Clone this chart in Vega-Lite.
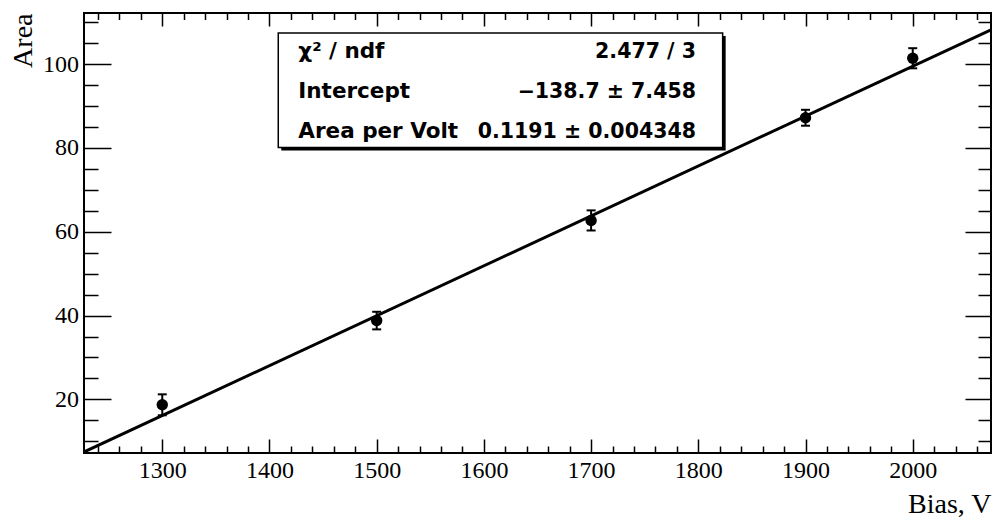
{
  "$schema": "https://vega.github.io/schema/vega-lite/v6.json",
  "width": 907,
  "height": 440,
  "autosize": "none",
  "padding": {"left": 84, "top": 13, "right": 1, "bottom": 67},
  "background": "white",
  "config": {
    "view": {"stroke": "black", "strokeWidth": 2},
    "axis": {
      "grid": false,
      "domain": false,
      "tickColor": "black",
      "tickWidth": 1.5,
      "labelFont": "Liberation Serif",
      "labelFontSize": 24,
      "labelColor": "black",
      "titleFont": "Liberation Serif",
      "titleFontSize": 28,
      "titleFontWeight": "normal",
      "titleColor": "black"
    }
  },
  "datasets": {
    "points": [
      {"bias": 1300, "area": 18.7, "lo": 16.2, "hi": 21.2},
      {"bias": 1500, "area": 38.8, "lo": 36.7, "hi": 40.9},
      {"bias": 1700, "area": 62.7, "lo": 60.3, "hi": 65.1},
      {"bias": 1900, "area": 87.2, "lo": 85.3, "hi": 89.1},
      {"bias": 2000, "area": 101.4, "lo": 99.0, "hi": 103.8}
    ],
    "fit": [
      {"bias": 1227, "area": 7.44},
      {"bias": 2073, "area": 108.19}
    ],
    "stats": [
      {"name": "χ² / ndf", "value": "2.477 / 3"},
      {"name": "Intercept", "value": "−138.7 ± 7.458"},
      {"name": "Area per Volt", "value": "0.1191 ± 0.004348"}
    ],
    "box": [
      {"x1": 1408.2, "x2": 1822.7, "y1": 107.43, "y2": 80.12}
    ]
  },
  "layer": [
    {
      "data": {"name": "fit"},
      "mark": {"type": "line", "color": "black", "strokeWidth": 3, "clip": true},
      "encoding": {
        "x": {
          "field": "bias", "type": "quantitative",
          "scale": {"domain": [1227, 2073], "nice": false, "zero": false},
          "axis": {
            "orient": "bottom", "values": [1300, 1400, 1500, 1600, 1700, 1800, 1900, 2000],
            "format": "d", "ticks": false, "labelPadding": 5,
            "title": "Bias, V", "titleX": 907, "titleY": 59, "titleAlign": "right",
            "titleBaseline": "alphabetic", "titleAnchor": null
          }
        },
        "y": {
          "field": "area", "type": "quantitative",
          "scale": {"domain": [7.2, 112.2], "nice": false, "zero": false},
          "axis": {
            "orient": "left", "values": [20, 40, 60, 80, 100],
            "format": "d", "ticks": false, "labelPadding": 5.5,
            "title": "Area", "titleX": -53, "titleY": 0, "titleAngle": 270,
            "titleAlign": "right", "titleBaseline": "alphabetic", "titleAnchor": null
          }
        }
      }
    },
    {
      "data": {"name": "points"},
      "mark": {"type": "rule", "color": "black", "strokeWidth": 2},
      "encoding": {
        "x": {
          "field": "bias", "type": "quantitative",
          "scale": {"domain": [1227, 2073], "nice": false, "zero": false},
          "axis": {
            "orient": "bottom", "values": [1300, 1400, 1500, 1600, 1700, 1800, 1900, 2000],
            "labels": false, "tickSize": -14, "title": null
          }
        },
        "y": {
          "field": "lo", "type": "quantitative",
          "scale": {"domain": [7.2, 112.2], "nice": false, "zero": false},
          "axis": {
            "orient": "left", "values": [20, 40, 60, 80, 100],
            "labels": false, "tickSize": -27, "title": null
          }
        },
        "y2": {"field": "hi"}
      }
    },
    {
      "data": {"name": "points"},
      "mark": {"type": "tick", "orient": "horizontal", "color": "black", "size": 9, "thickness": 2, "opacity": 1},
      "encoding": {
        "x": {
          "field": "bias", "type": "quantitative",
          "scale": {"domain": [1227, 2073], "nice": false, "zero": false},
          "axis": {
            "orient": "bottom",
            "values": [1240, 1260, 1280, 1320, 1340, 1360, 1380, 1420, 1440, 1460, 1480, 1520, 1540, 1560, 1580, 1620, 1640, 1660, 1680, 1720, 1740, 1760, 1780, 1820, 1840, 1860, 1880, 1920, 1940, 1960, 1980, 2020, 2040, 2060],
            "labels": false, "tickSize": -7, "title": null
          }
        },
        "y": {
          "field": "lo", "type": "quantitative",
          "scale": {"domain": [7.2, 112.2], "nice": false, "zero": false},
          "axis": {
            "orient": "left",
            "values": [10, 15, 25, 30, 35, 45, 50, 55, 65, 70, 75, 85, 90, 95, 105, 110],
            "labels": false, "tickSize": -14, "title": null
          }
        }
      }
    },
    {
      "data": {"name": "points"},
      "mark": {"type": "tick", "orient": "horizontal", "color": "black", "size": 9, "thickness": 2, "opacity": 1},
      "encoding": {
        "x": {
          "field": "bias", "type": "quantitative",
          "scale": {"domain": [1227, 2073], "nice": false, "zero": false},
          "axis": {
            "orient": "top", "values": [1300, 1400, 1500, 1600, 1700, 1800, 1900, 2000],
            "labels": false, "tickSize": -13, "title": null
          }
        },
        "y": {
          "field": "hi", "type": "quantitative",
          "scale": {"domain": [7.2, 112.2], "nice": false, "zero": false},
          "axis": {
            "orient": "right", "values": [20, 40, 60, 80, 100],
            "labels": false, "tickSize": -26, "title": null
          }
        }
      }
    },
    {
      "data": {"name": "points"},
      "mark": {"type": "point", "shape": "circle", "filled": true, "color": "black", "size": 130, "opacity": 1},
      "encoding": {
        "x": {
          "field": "bias", "type": "quantitative",
          "scale": {"domain": [1227, 2073], "nice": false, "zero": false},
          "axis": {
            "orient": "top",
            "values": [1240, 1260, 1280, 1320, 1340, 1360, 1380, 1420, 1440, 1460, 1480, 1520, 1540, 1560, 1580, 1620, 1640, 1660, 1680, 1720, 1740, 1760, 1780, 1820, 1840, 1860, 1880, 1920, 1940, 1960, 1980, 2020, 2040, 2060],
            "labels": false, "tickSize": -6.5, "title": null
          }
        },
        "y": {
          "field": "area", "type": "quantitative",
          "scale": {"domain": [7.2, 112.2], "nice": false, "zero": false},
          "axis": {
            "orient": "right",
            "values": [10, 15, 25, 30, 35, 45, 50, 55, 65, 70, 75, 85, 90, 95, 105, 110],
            "labels": false, "tickSize": -13, "title": null
          }
        }
      }
    },
    {
      "data": {"name": "box"},
      "mark": {"type": "rect", "color": "black", "opacity": 1, "xOffset": 3, "x2Offset": 3, "yOffset": 3, "y2Offset": 3},
      "encoding": {
        "x": {"field": "x1", "type": "quantitative", "axis": null},
        "x2": {"field": "x2"},
        "y": {"field": "y1", "type": "quantitative", "axis": null},
        "y2": {"field": "y2"}
      }
    },
    {
      "data": {"name": "box"},
      "mark": {"type": "rect", "fill": "white", "opacity": 1, "stroke": "black", "strokeWidth": 1.5},
      "encoding": {
        "x": {"field": "x1", "type": "quantitative", "axis": null},
        "x2": {"field": "x2"},
        "y": {"field": "y1", "type": "quantitative", "axis": null},
        "y2": {"field": "y2"}
      }
    },
    {
      "data": {"name": "stats"},
      "mark": {"type": "text", "font": "DejaVu Sans", "fontWeight": "bold", "fontSize": 21.5, "color": "black", "align": "left", "baseline": "alphabetic"},
      "encoding": {
        "x": {"datum": 1426.9, "type": "quantitative", "axis": null},
        "y": {"datum": 101.46, "type": "quantitative", "axis": null},
        "yOffset": {
          "field": "name", "type": "nominal",
          "scale": {"type": "point", "domain": ["χ² / ndf", "Intercept", "Area per Volt"], "range": [0, 80], "padding": 0}
        },
        "text": {"field": "name"}
      }
    },
    {
      "data": {"name": "stats"},
      "mark": {"type": "text", "font": "DejaVu Sans", "fontWeight": "bold", "fontSize": 20.5, "color": "black", "align": "right", "baseline": "alphabetic"},
      "encoding": {
        "x": {"datum": 1797.8, "type": "quantitative", "axis": null},
        "y": {"datum": 101.46, "type": "quantitative", "axis": null},
        "yOffset": {
          "field": "name", "type": "nominal",
          "scale": {"type": "point", "domain": ["χ² / ndf", "Intercept", "Area per Volt"], "range": [0, 80], "padding": 0}
        },
        "text": {"field": "value"}
      }
    }
  ],
  "resolve": {"axis": {"x": "independent", "y": "independent"}}
}
